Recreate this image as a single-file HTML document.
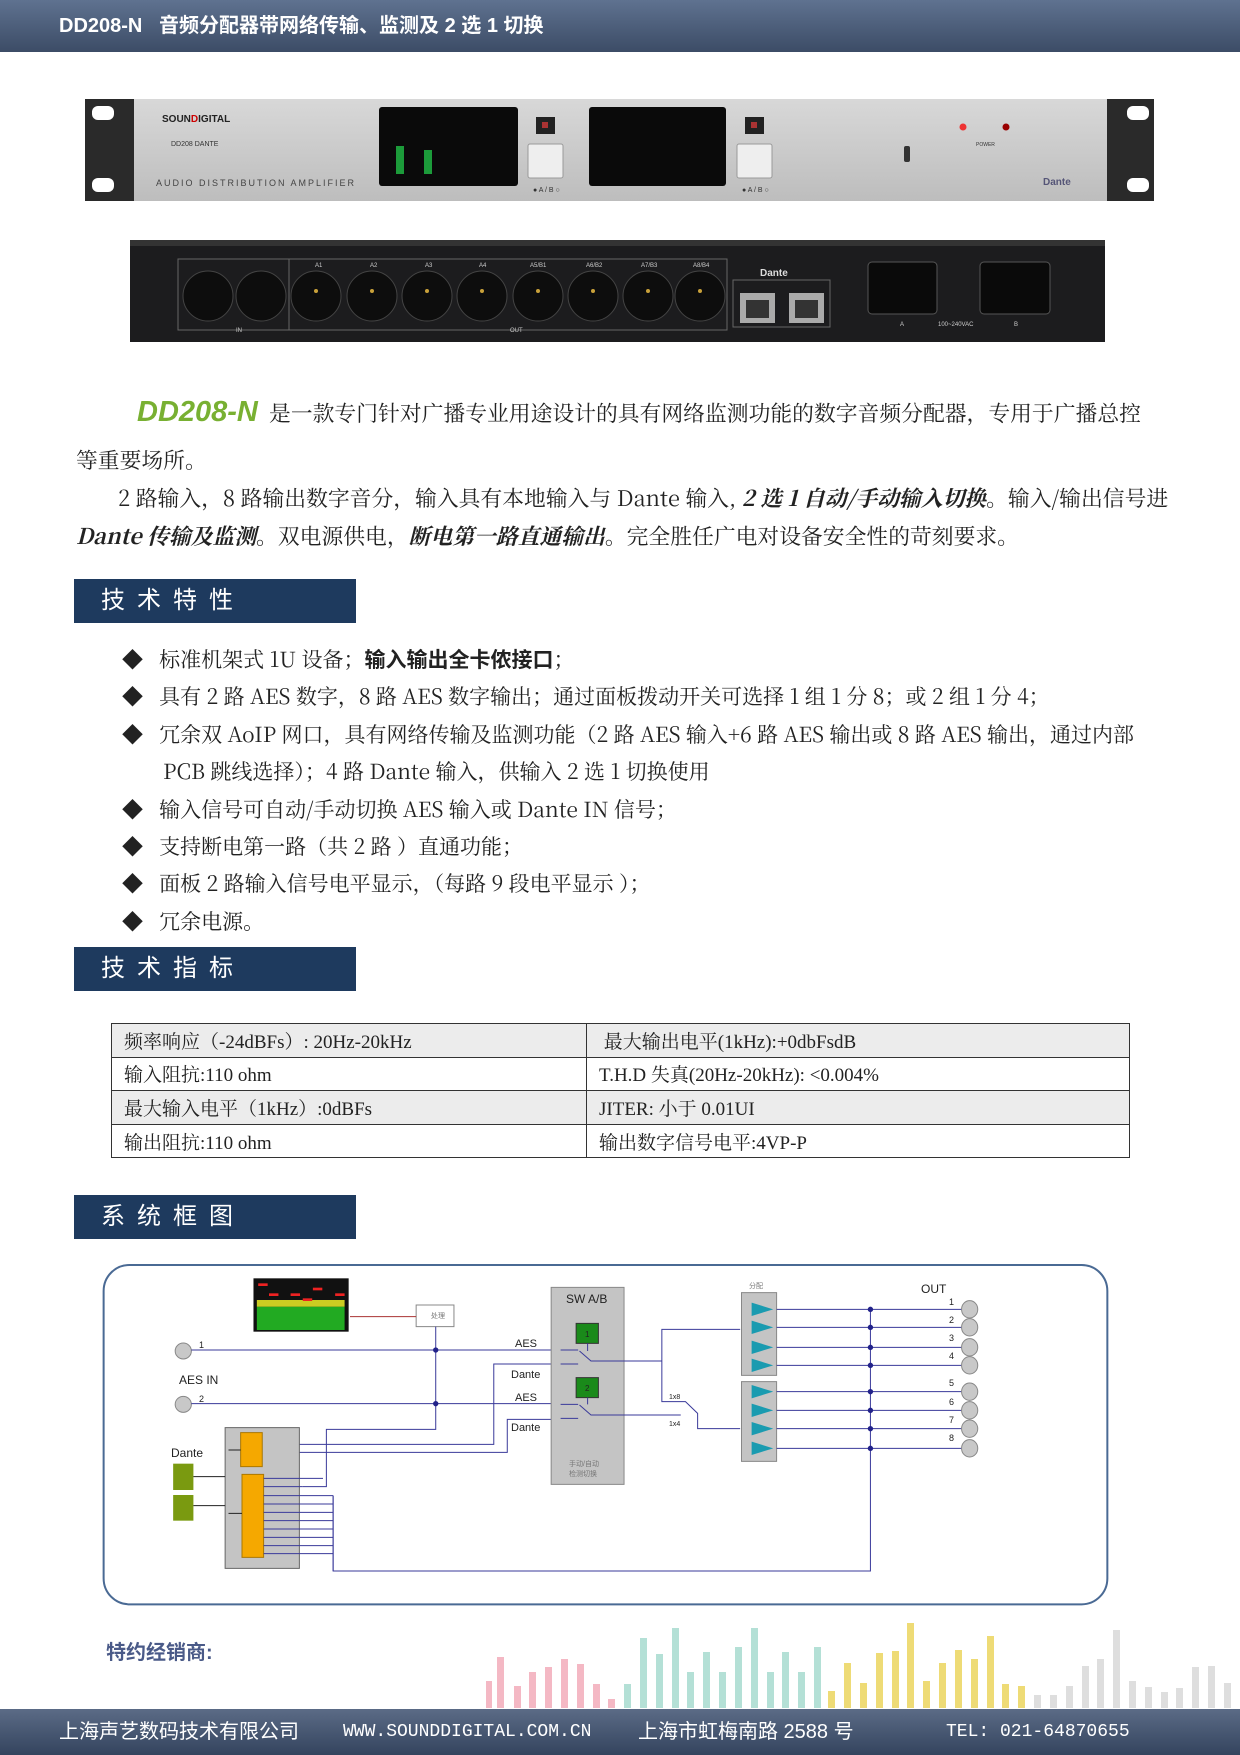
<!DOCTYPE html>
<html><head><meta charset="utf-8"><style>
*{margin:0;padding:0;box-sizing:border-box}
body{width:1240px;height:1755px;position:relative;background:#fff;font-family:"Liberation Serif","Noto Serif CJK SC",serif;color:#222;overflow:hidden}
.abs{position:absolute}
.hdr{left:0;top:0;width:1240px;height:52px;background:linear-gradient(#5f7290,#3c4c66);color:#fff;font-family:"Liberation Sans","Noto Sans CJK SC",sans-serif;font-weight:bold;font-size:20px;line-height:52px;padding-left:59px}
.sec{left:74px;width:282px;height:44px;background:#1e3a5e;color:#fff;font-family:"Liberation Sans","Noto Sans CJK SC",sans-serif;font-size:24px;line-height:44px;padding-left:27px;letter-spacing:12px}
.p{font-family:"Noto Serif CJK SC",serif;font-size:21.8px;white-space:nowrap}
.bl{left:122px;font-family:"Noto Serif CJK SC",serif;font-size:21px;white-space:nowrap}
.bl b{font-family:"Noto Sans CJK SC",sans-serif}
table{border-collapse:collapse;font-size:19px}
td{border:1px solid #333;height:33.6px;padding-left:12px;white-space:nowrap}
.ft{left:0;top:1709px;width:1240px;height:46px;background:linear-gradient(#5b6b86,#34445e);color:#fff;font-family:"Liberation Sans","Noto Sans CJK SC",sans-serif;font-size:20px;line-height:46px}
</style></head><body>
<div class="abs hdr">DD208-N&nbsp;&nbsp;&nbsp;音频分配器带网络传输、监测及 2 选 1 切换</div>

<svg class="abs" style="left:0;top:90px" width="1240" height="260" viewBox="0 90 1240 260">
<defs><linearGradient id="sv" x1="0" y1="0" x2="0" y2="1"><stop offset="0" stop-color="#d8d8d8"/><stop offset="1" stop-color="#bdbdbd"/></linearGradient></defs>
<rect x="85" y="99" width="50" height="102" fill="#2a2a2a"/>
<rect x="1106" y="99" width="48" height="102" fill="#2a2a2a"/>
<rect x="92" y="106" width="22" height="14" rx="6" fill="#fff"/><rect x="92" y="178" width="22" height="14" rx="6" fill="#fff"/>
<rect x="1127" y="106" width="22" height="14" rx="6" fill="#fff"/><rect x="1127" y="178" width="22" height="14" rx="6" fill="#fff"/>
<rect x="134" y="99" width="973" height="102" fill="url(#sv)"/>
<text x="162" y="122" font-family="Liberation Sans" font-weight="bold" font-size="10" fill="#222">SOUN<tspan fill="#c00">D</tspan>IGITAL</text>
<text x="171" y="146" font-family="Liberation Sans" font-size="7" fill="#333">DD208 DANTE</text>
<text x="156" y="186" font-family="Liberation Sans" font-size="9" fill="#444" letter-spacing="2">AUDIO DISTRIBUTION AMPLIFIER</text>
<rect x="379" y="107" width="139" height="79" rx="3" fill="#0a0a0a"/>
<rect x="589" y="107" width="137" height="79" rx="3" fill="#0a0a0a"/>
<g fill="#1c9b3a"><rect x="396" y="146" width="8" height="28"/><rect x="424" y="150" width="8" height="24"/></g>
<rect x="536" y="117" width="19" height="17" fill="#222"/><rect x="542" y="122" width="6" height="6" fill="#a33"/>
<rect x="745" y="117" width="19" height="17" fill="#222"/><rect x="751" y="122" width="6" height="6" fill="#a33"/>
<rect x="528" y="144" width="35" height="34" rx="2" fill="#eee" stroke="#999"/>
<rect x="737" y="144" width="35" height="34" rx="2" fill="#eee" stroke="#999"/>
<text x="533" y="192" font-size="7" font-family="Liberation Sans" fill="#333">● A / B ○</text>
<text x="742" y="192" font-size="7" font-family="Liberation Sans" fill="#333">● A / B ○</text>
<rect x="904" y="146" width="6" height="16" rx="2" fill="#333"/>
<circle cx="963" cy="127" r="3.5" fill="#e33"/><circle cx="1006" cy="127" r="3.5" fill="#900"/>
<text x="976" y="146" font-size="5" font-family="Liberation Sans" fill="#333">POWER</text>
<text x="1043" y="185" font-size="10" font-family="Liberation Sans" font-weight="bold" fill="#557">Dante</text>
<rect x="130" y="240" width="975" height="102" fill="#1c1c1e"/>
<rect x="130" y="240" width="975" height="6" fill="#333"/>
<g fill="none" stroke="#666" stroke-width="1"><rect x="178" y="259" width="111" height="71"/><rect x="289" y="259" width="438" height="71"/><rect x="733" y="280" width="97" height="47"/></g>
<g fill="#0d0d0d" stroke="#444"><circle cx="208" cy="296" r="25"/><circle cx="261" cy="296" r="25"/>
<circle cx="316" cy="296" r="25"/><circle cx="372" cy="296" r="25"/><circle cx="427" cy="296" r="25"/><circle cx="482" cy="296" r="25"/><circle cx="538" cy="296" r="25"/><circle cx="593" cy="296" r="25"/><circle cx="648" cy="296" r="25"/><circle cx="700" cy="296" r="25"/></g>
<g fill="#c9a13a"><circle cx="316" cy="291" r="2"/><circle cx="372" cy="291" r="2"/><circle cx="427" cy="291" r="2"/><circle cx="482" cy="291" r="2"/><circle cx="538" cy="291" r="2"/><circle cx="593" cy="291" r="2"/><circle cx="648" cy="291" r="2"/><circle cx="700" cy="291" r="2"/></g>
<g fill="#aaa"><rect x="740" y="293" width="35" height="30"/><rect x="789" y="293" width="35" height="30"/></g>
<g fill="#333"><rect x="746" y="300" width="23" height="18"/><rect x="795" y="300" width="23" height="18"/></g>
<text x="760" y="276" font-size="10" font-family="Liberation Sans" font-weight="bold" fill="#ddd">Dante</text>
<g fill="#0a0a0a" stroke="#555"><rect x="868" y="262" width="69" height="52" rx="4"/><rect x="980" y="262" width="70" height="52" rx="4"/></g>
<g font-family="Liberation Sans" font-size="6" fill="#ccc"><text x="315" y="267">A1</text><text x="370" y="267">A2</text><text x="425" y="267">A3</text><text x="479" y="267">A4</text><text x="530" y="267">A5/B1</text><text x="586" y="267">A6/B2</text><text x="641" y="267">A7/B3</text><text x="693" y="267">A8/B4</text><text x="236" y="332">IN</text><text x="510" y="332">OUT</text><text x="900" y="326">A</text><text x="938" y="326">100~240VAC</text><text x="1014" y="326">B</text></g>
</svg>

<div class="abs p" style="left:76px;top:392px;width:1160px;line-height:40px"><span style="display:inline-block;width:61px"></span><i style="font-family:'Liberation Sans';font-weight:bold;font-size:29px;color:#78b032">DD208-N</i>&nbsp;&nbsp;是一款专门针对广播专业用途设计的具有网络监测功能的数字音频分配器，专用于广播总控</div>
<div class="abs p" style="left:76px;top:444px">等重要场所。</div>
<div class="abs p" style="left:118px;top:482px">2 路输入，8 路输出数字音分，输入具有本地输入与 Dante 输入, <b><i>2 选 1 自动/手动输入切换</i></b>。输入/输出信号进</div>
<div class="abs p" style="left:76px;top:520px"><b><i>Dante 传输及监测</i></b>。双电源供电，<b><i>断电第一路直通输出</i></b>。完全胜任广电对设备安全性的苛刻要求。</div>

<div class="abs sec" style="top:579px">技术特性</div>
<div class="abs bl" style="top:644px">◆&nbsp;&nbsp;&nbsp;标准机架式 1U 设备；<b>输入输出全卡侬接口</b>；</div>
<div class="abs bl" style="top:681px">◆&nbsp;&nbsp;&nbsp;具有 2 路 AES 数字，8 路 AES 数字输出；通过面板拨动开关可选择 1 组 1 分 8；或 2 组 1 分 4；</div>
<div class="abs bl" style="top:719px">◆&nbsp;&nbsp;&nbsp;冗余双 AoIP 网口，具有网络传输及监测功能（2 路 AES 输入+6 路 AES 输出或 8 路 AES 输出，通过内部</div>
<div class="abs bl" style="top:756px;left:163px">PCB 跳线选择）；4 路 Dante 输入，供输入 2 选 1 切换使用</div>
<div class="abs bl" style="top:794px">◆&nbsp;&nbsp;&nbsp;输入信号可自动/手动切换 AES 输入或 Dante IN 信号；</div>
<div class="abs bl" style="top:831px">◆&nbsp;&nbsp;&nbsp;支持断电第一路（共 2 路 ）直通功能；</div>
<div class="abs bl" style="top:868px">◆&nbsp;&nbsp;&nbsp;面板 2 路输入信号电平显示，（每路 9 段电平显示 ）；</div>
<div class="abs bl" style="top:906px">◆&nbsp;&nbsp;&nbsp;冗余电源。</div>

<div class="abs sec" style="top:947px">技术指标</div>
<table class="abs" style="left:111px;top:1023px;width:1019px">
<tr style="background:#ececec"><td style="width:475px">频率响应（-24dBFs）: 20Hz-20kHz</td><td>&nbsp;最大输出电平(1kHz):+0dbFsdB</td></tr>
<tr><td>输入阻抗:110 ohm</td><td>T.H.D 失真(20Hz-20kHz): &lt;0.004%</td></tr>
<tr style="background:#ececec"><td>最大输入电平（1kHz）:0dBFs</td><td>JITER: 小于 0.01UI</td></tr>
<tr><td>输出阻抗:110 ohm</td><td>输出数字信号电平:4VP-P</td></tr>
</table>

<div class="abs sec" style="top:1195px">系统框图</div>

<svg class="abs" style="left:0;top:0" width="1240" height="1755">
<g transform="translate(80,1250) scale(0.675,0.33333)" fill="none" stroke="#3a3a9a" stroke-width="1">
<rect x="35" y="45" width="1487" height="1018" rx="38" ry="78" stroke="#4a6a94" stroke-width="2" vector-effect="non-scaling-stroke"/>
<rect x="257" y="85" width="141" height="160" fill="#111" stroke="none"/>
<g stroke="none"><rect x="262" y="170" width="130" height="70" fill="#2a2"/><rect x="262" y="150" width="130" height="20" fill="#cc2"/><rect x="264" y="100" width="14" height="8" fill="#e22"/><rect x="280" y="130" width="14" height="8" fill="#e22"/><rect x="312" y="130" width="14" height="8" fill="#e22"/><rect x="345" y="113" width="14" height="8" fill="#e22"/><rect x="378" y="130" width="14" height="8" fill="#e22"/><rect x="330" y="145" width="14" height="8" fill="#e22"/></g>
<rect x="498" y="165" width="56" height="65" fill="#fff" stroke="#888" vector-effect="non-scaling-stroke"/>
<line x1="498" y1="200" x2="400" y2="200" stroke="#a33" vector-effect="non-scaling-stroke"/>
<ellipse cx="153" cy="303" rx="12" ry="24" fill="#c8c8c8" stroke="#888" vector-effect="non-scaling-stroke"/>
<ellipse cx="153" cy="463" rx="12" ry="24" fill="#c8c8c8" stroke="#888" vector-effect="non-scaling-stroke"/>
<path d="M165 300H698M165 461H698M527 230V538H365V710H330M284 583H613V342H698M284 607H633V508H698" vector-effect="non-scaling-stroke"/>
<rect x="698" y="112" width="108" height="591" fill="#c4c4c4" stroke="#888" vector-effect="non-scaling-stroke"/>
<rect x="735" y="220" width="33" height="60" fill="#1a8a1a" stroke="#333" vector-effect="non-scaling-stroke"/>
<rect x="735" y="383" width="33" height="60" fill="#1a8a1a" stroke="#333" vector-effect="non-scaling-stroke"/>
<path d="M712 300H738M712 342H738M712 463H738M712 505H738M752 280V303M752 443V463M740 303L757 333H862M740 465L757 495H890" vector-effect="non-scaling-stroke"/>
<path d="M862 333V238H978M862 333V455H897L915 490V536H978" vector-effect="non-scaling-stroke"/>
<rect x="980" y="128" width="52" height="248" fill="#c4c4c4" stroke="#888" vector-effect="non-scaling-stroke"/>
<rect x="980" y="395" width="52" height="239" fill="#c4c4c4" stroke="#888" vector-effect="non-scaling-stroke"/>
<g fill="#1a9bb0" stroke="none"><path d="M995 158L1027 178L995 198Z"/><path d="M995 212L1027 232L995 252Z"/><path d="M995 272L1027 292L995 312Z"/><path d="M995 326L1027 346L995 366Z"/><path d="M995 405L1027 425L995 445Z"/><path d="M995 461L1027 481L995 501Z"/><path d="M995 516L1027 536L995 556Z"/><path d="M995 575L1027 595L995 615Z"/></g>
<path d="M1032 178H1308M1032 232H1308M1032 292H1308M1032 346H1308M1032 425H1308M1032 481H1308M1032 536H1308M1032 595H1308M1171 178V963H375V737" vector-effect="non-scaling-stroke"/>
<g fill="#c8c8c8" stroke="#888"><ellipse cx="1318" cy="178" rx="12" ry="26" vector-effect="non-scaling-stroke"/><ellipse cx="1318" cy="232" rx="12" ry="26" vector-effect="non-scaling-stroke"/><ellipse cx="1318" cy="292" rx="12" ry="26" vector-effect="non-scaling-stroke"/><ellipse cx="1318" cy="346" rx="12" ry="26" vector-effect="non-scaling-stroke"/><ellipse cx="1318" cy="425" rx="12" ry="26" vector-effect="non-scaling-stroke"/><ellipse cx="1318" cy="481" rx="12" ry="26" vector-effect="non-scaling-stroke"/><ellipse cx="1318" cy="536" rx="12" ry="26" vector-effect="non-scaling-stroke"/><ellipse cx="1318" cy="595" rx="12" ry="26" vector-effect="non-scaling-stroke"/></g>
<g fill="#22228a" stroke="none"><ellipse cx="527" cy="300" rx="4" ry="8"/><ellipse cx="527" cy="461" rx="4" ry="8"/><ellipse cx="1171" cy="178" rx="4" ry="8"/><ellipse cx="1171" cy="232" rx="4" ry="8"/><ellipse cx="1171" cy="292" rx="4" ry="8"/><ellipse cx="1171" cy="346" rx="4" ry="8"/><ellipse cx="1171" cy="425" rx="4" ry="8"/><ellipse cx="1171" cy="481" rx="4" ry="8"/><ellipse cx="1171" cy="536" rx="4" ry="8"/><ellipse cx="1171" cy="595" rx="4" ry="8"/></g>
<rect x="215" y="533" width="110" height="422" fill="#c4c4c4" stroke="#666" vector-effect="non-scaling-stroke"/>
<rect x="238" y="548" width="32" height="102" fill="#f5a800" stroke="#a70" vector-effect="non-scaling-stroke"/>
<rect x="240" y="673" width="32" height="249" fill="#f5a800" stroke="#a70" vector-effect="non-scaling-stroke"/>
<rect x="138" y="641" width="30" height="79" fill="#7a9a10" stroke="none"/>
<rect x="138" y="735" width="30" height="77" fill="#7a9a10" stroke="none"/>
<path d="M168 680H215M168 767H215M220 600H238M220 790H240" stroke="#222" vector-effect="non-scaling-stroke"/>
<path d="M272 685H360M272 710H330M272 737H375M272 762H375M272 787H375M272 812H375M272 837H375M272 862H375M272 887H375M272 911H375M375 737V963" vector-effect="non-scaling-stroke"/>
</g>
<g font-family="Liberation Sans,sans-serif" fill="#222" font-size="11">
<text x="199" y="1348" font-size="9">1</text>
<text x="179" y="1384" font-size="12">AES IN</text>
<text x="199" y="1402" font-size="9">2</text>
<text x="515" y="1347">AES</text><text x="511" y="1378">Dante</text>
<text x="515" y="1401">AES</text><text x="511" y="1431">Dante</text>
<text x="566" y="1303" font-size="12">SW A/B</text>
<text x="585" y="1337" font-size="8">1</text><text x="585" y="1391" font-size="8">2</text>
<text x="669" y="1399" font-size="7">1x8</text><text x="669" y="1426" font-size="7">1x4</text>
<text x="749" y="1288" font-size="7" fill="#777">分配</text>
<text x="921" y="1293" font-size="12">OUT</text>
<text x="949" y="1305" font-size="9">1</text><text x="949" y="1323" font-size="9">2</text><text x="949" y="1341" font-size="9">3</text><text x="949" y="1359" font-size="9">4</text><text x="949" y="1386" font-size="9">5</text><text x="949" y="1405" font-size="9">6</text><text x="949" y="1423" font-size="9">7</text><text x="949" y="1441" font-size="9">8</text>
<text x="171" y="1457" font-size="12">Dante</text>
<text x="431" y="1318" font-size="7" fill="#777">处理</text>
<text x="569" y="1466" font-size="7" fill="#777">手动/自动</text><text x="569" y="1476" font-size="7" fill="#777">检测切换</text>
</g>

<g>
<g fill="#f4b8c4"><rect x="486" y="1681" width="6" height="27"/><rect x="497" y="1657" width="7" height="51"/><rect x="514" y="1686" width="7" height="22"/><rect x="529" y="1672" width="7" height="36"/><rect x="545" y="1667" width="7" height="41"/><rect x="561" y="1659" width="7" height="49"/><rect x="577" y="1664" width="7" height="44"/><rect x="593" y="1684" width="7" height="24"/><rect x="608" y="1699" width="7" height="9"/></g>
<g fill="#b4e0d6"><rect x="624" y="1684" width="7" height="24"/><rect x="640" y="1638" width="7" height="70"/><rect x="656" y="1654" width="7" height="54"/><rect x="672" y="1628" width="7" height="80"/><rect x="687" y="1672" width="7" height="36"/><rect x="703" y="1652" width="7" height="56"/><rect x="719" y="1672" width="7" height="36"/><rect x="735" y="1647" width="7" height="61"/><rect x="751" y="1628" width="7" height="80"/><rect x="767" y="1672" width="7" height="36"/><rect x="782" y="1652" width="7" height="56"/><rect x="798" y="1672" width="7" height="36"/><rect x="814" y="1647" width="7" height="61"/></g>
<g fill="#eedb76"><rect x="828" y="1691" width="7" height="17"/><rect x="844" y="1663" width="7" height="45"/><rect x="860" y="1683" width="7" height="25"/><rect x="876" y="1653" width="7" height="55"/><rect x="892" y="1651" width="7" height="57"/><rect x="907" y="1623" width="7" height="85"/><rect x="923" y="1681" width="7" height="27"/><rect x="939" y="1663" width="7" height="45"/><rect x="955" y="1650" width="7" height="58"/><rect x="971" y="1659" width="7" height="49"/><rect x="987" y="1636" width="7" height="72"/><rect x="1002" y="1684" width="7" height="24"/><rect x="1018" y="1686" width="7" height="22"/></g>
<g fill="#dedede"><rect x="1034" y="1695" width="7" height="13"/><rect x="1050" y="1695" width="7" height="13"/><rect x="1066" y="1686" width="7" height="22"/><rect x="1082" y="1666" width="7" height="42"/><rect x="1097" y="1659" width="7" height="49"/><rect x="1113" y="1630" width="7" height="78"/><rect x="1129" y="1681" width="7" height="27"/><rect x="1145" y="1687" width="7" height="21"/><rect x="1161" y="1692" width="7" height="16"/><rect x="1176" y="1688" width="7" height="20"/><rect x="1192" y="1667" width="7" height="41"/><rect x="1208" y="1666" width="7" height="42"/><rect x="1224" y="1683" width="7" height="25"/></g>
</g>
</svg>

<div class="abs" style="left:106px;top:1636px;font-family:'Liberation Sans','Noto Sans CJK SC',sans-serif;font-size:20px;color:#4a5a88;font-weight:bold">特约经销商:</div>
<div class="abs ft"><span style="position:absolute;left:59px">上海声艺数码技术有限公司</span><span style="position:absolute;left:343px;font-family:'Liberation Mono',monospace;font-size:18px">WWW.SOUNDDIGITAL.COM.CN</span><span style="position:absolute;left:638px">上海市虹梅南路 2588 号</span><span style="position:absolute;left:946px;font-family:'Liberation Mono',monospace;font-size:18px">TEL: 021-64870655</span></div>
</body></html>
